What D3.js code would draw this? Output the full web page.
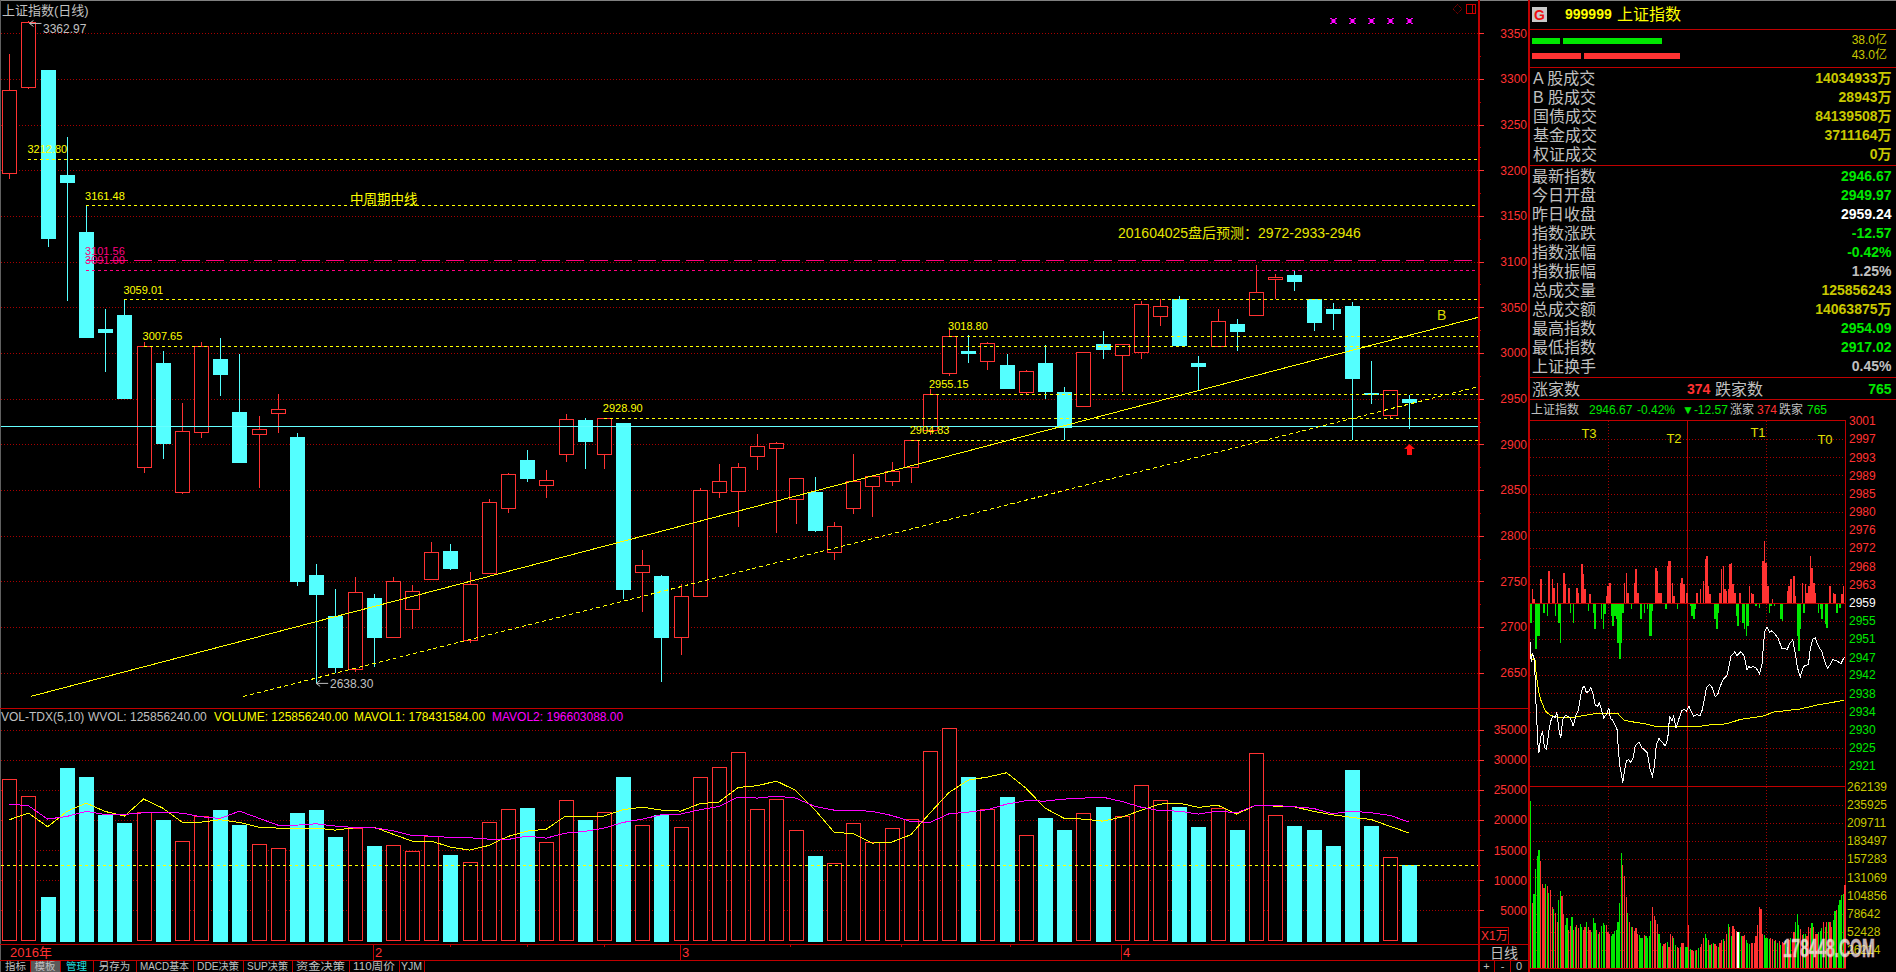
<!DOCTYPE html>
<html><head><meta charset="utf-8">
<script src="https://cdn.jsdelivr.net/npm/d3@7/dist/d3.min.js"></script>
<style>
html,body{margin:0;padding:0;background:#000;overflow:hidden}
svg{display:block}
text{font-family:"Liberation Sans","Noto Sans CJK SC",sans-serif}
</style></head><body>
<script>
const opens=[3196.7,3290.5,3309.8,3194.9,3132.5,3026.2,3041.6,2874.8,2989,2847,2914.2,2993.4,2935.4,2910.5,2933.9,2908,2756.9,2712,2653.2,2731.7,2688.6,2719.3,2752.1,2783.2,2685,2758.3,2829.5,2882.8,2854.7,2888.6,2926.6,2889.7,2923.3,2759.5,2755.8,2688.3,2733.1,2847,2848.1,2886.5,2895.2,2839.7,2847.5,2781.7,2829.9,2853.6,2859.1,2875.5,2915.3,2978.5,3002.2,2990.5,2986.8,2956.5,2989,2957.3,2941.2,3009.8,2997,3000.3,3039.7,3058.7,2989,3006.9,3031.7,3040.8,3080.3,3085.4,3058.7,3048.1,3051.5,2955.8,2932.4,2949.97];
const highs=[3327.4,3362.97,3309.8,3236.5,3161.48,3048.1,3059.01,3012.4,3002.2,2945.2,3012.4,3016.5,2998.9,2931,2955.1,2912.4,2768.9,2741.5,2754.7,2736.1,2754.7,2745.9,2793,2790.8,2760.2,2840.1,2868.2,2893.7,2871.8,2933.2,2928.4,2928.9,2923.3,2784.2,2756.9,2747,2851.8,2878.5,2879.5,2911.3,2902.5,2862.7,2863.8,2814.5,2889,2864.9,2880.6,2904.83,2961,3025.9,3019.3,3011.6,2998.9,2981.4,3008.7,2962.7,3001,3024.1,3009.6,3056.5,3058.7,3062.4,2996.7,3048.1,3037.2,3096.3,3086.5,3091.2,3058.7,3054.7,3055.8,2991.2,2959.24,2954.09];
const lows=[3190.5,3289,3116.4,3057.3,3017.8,2979.5,2949.6,2868.9,2884.3,2845.9,2907.2,2953.2,2881,2852.5,2912.7,2745.2,2638.3,2649.2,2650.3,2656.5,2688.6,2698.1,2752.1,2762.3,2682.8,2758.3,2825.1,2858.7,2841.5,2881,2873.3,2873.3,2730.6,2716.7,2640.1,2669.6,2733.1,2841.5,2809.8,2871.8,2803.2,2813.1,2804.4,2773.7,2824,2820.7,2854.7,2857.6,2909.8,2975.1,2989,2981.5,2961.6,2954,2949.6,2904.8,2941,2993.4,2957.3,2993.4,3029.5,3008.4,2959.5,3006.5,3002.2,3040.8,3058.7,3067.9,3024.1,3025.1,2905,2944.1,2928.4,2917.02];
const closes=[3287.6,3362,3126.3,3187.6,3017.8,3023,2951.1,3007.65,2901.8,2914.2,3008,2977.3,2881,2916.4,2938.3,2750.7,2736.4,2656.5,2737.9,2689.3,2749.9,2739,2781.7,2764.5,2746.7,2836.4,2867.1,2863.1,2860.5,2927.3,2904,2928.9,2741.5,2767.5,2689.3,2733.5,2849.6,2859.5,2874.8,2897.8,2901,2862.7,2805.5,2810.2,2859.5,2864.9,2870.5,2904.83,2955.15,3018.8,3000,3010.5,2961.6,2979.9,2958.4,2919.3,3000.7,3004.3,3009.4,3053.3,3051.1,3008.4,2985.7,3034.6,3024.1,3066.4,3082.8,3078.8,3033.9,3043.8,2972.6,2954.3,2959.24,2946.67];
const volumes=[26814,23988,7257,28697,27201,20886,19556,21329,20055,16509,20664,21717,19224,16011,15346,21218,21717,17229,18670,15734,15844,14847,17340,14238,13019,19667,21828,22049,16343,23323,20055,21329,27201,19168,20886,18836,27146,28808,31301,21828,23490,18337,14072,12853,19501,16343,18670,20166,31467,35290,27201,21828,23877,17506,20387,18393,21163,22215,20664,25816,23323,22215,18891,21994,18393,31135,20830,19058,18393,15734,28365,19058,13850,12586];
const mavol1=[20055,21163,18891,21440,22825,21440,20664,23490,21994,19667,19667,20055,19612,18836,18670,18670,18670,18337,18725,18836,17673,16509,16509,15512,15013,15789,17285,18171,18504,20664,20664,20664,21717,22160,21661,21495,22714,22991,25429,25706,26481,24930,21717,18005,17728,16177,16343,17562,21163,24598,26647,27146,27866,25318,21994,20276,20166,19833,20498,21606,22659,22825,22105,22492,20997,22492,22326,22215,21440,20886,20443,20110,18947,17843];
const mavol2=[22659,22382,20166,20609,21440,20941,20941,21218,21274,21163,20553,20276,21495,20332,19168,19168,19390,19002,18781,18725,18227,17451,17340,17119,17063,16842,16786,17340,17008,17839,18116,18670,19612,20166,20886,20997,21717,22271,23822,23656,23988,23656,22271,21661,21661,21440,20775,19778,19612,21052,21329,21717,22659,23213,23157,23490,23656,23822,23102,22160,21551,21495,20997,21495,21218,22492,22437,22215,21938,21052,21495,21218,20775,19660];
const priceTicks=[3350,3300,3250,3200,3150,3100,3050,3000,2950,2900,2850,2800,2750,2700,2650];
const priceMinorTicks=[3325,3275,3225,3175,3125,3075,3025,2975,2925,2875,2825,2775,2725,2675];
const volTicks=[35000,30000,25000,20000,15000,10000,5000];
const volMinorTicks=[32500,27500,22500,17500,12500,7500];
const yellowLevels=[3212.80,3161.48,3059.01,3007.65,3018.80,2955.15,2928.90,2904.83];
const yellowLevelStart=[1,4,6,7,49,48,31,47];
const pinkLevels=[3101.56,3091.00];
const pinkLevelStart=[4,4];
const baseLevel=2919.7;
const trendIdx=[1.13,76.57];
const trendPrice=[2624.1,3039];
const supportIdx=[12.2,76.47];
const supportPrice=[2624.1,2962.4];
const watchIdx=[69,70,71,72,73];
const monthLabels=["2016年","2","3","4"];
const monthIdx=[0,19,35,58];
const weekIdx=[23,27,31,40.7,46.5,52.2];
const tabs=["指标","模板","管理","另存为","MACD基本","DDE决策","SUP决策","资金决策","110周价","YJM"];
const tabEdges=[1,30,60,93,136,193,243,292,349,399,424];
const infoLabelsA=["A 股成交","B 股成交","国债成交","基金成交","权证成交"];
const infoValuesA=["14034933万","28943万","84139508万","3711164万","0万"];
const infoLabelsB=["最新指数","今日开盘","昨日收盘","指数涨跌","指数涨幅","指数振幅","总成交量","总成交额","最高指数","最低指数","上证换手"];
const infoValuesB=["2946.67","2949.97","2959.24","-12.57","-0.42%","1.25%","125856243","14063875万","2954.09","2917.02","0.45%"];
const infoColorsB=["#00e800","#00e800","#ffffff","#00e800","#00e800","#c0c0c0","#c8c800","#c8c800","#00e800","#00e800","#c0c0c0"];
const intraTickValues=[3001,2996.8,2992.6,2988.5,2984.3,2980.1,2975.9,2971.8,2967.6,2963.4,2959.24,2955.1,2950.9,2946.7,2942.6,2938.4,2934.2,2930,2925.9,2921.7];
const intraTickLabels=["3001","2997","2993","2989","2985","2980","2976","2972","2968","2963","2959","2955","2951","2947","2942","2938","2934","2930","2925","2921"];
const intraVolTicks=[262139,235925,209711,183497,157283,131069,104856,78642,52428,26214];
const intraIdx=[0,0.6,1.4,2.6,3.6,4.7,5.3,6.3,7.5,8.7,9.9,11.5,12.8,14,15.2,16.2,17.4,18.6,19.8,21.1,22.5,24.1,25.5,26.1,27.7,29.4,30.6,31.8,33,34.2,35.6,36.8,38.3,39.5,40.9,42.1,43.3,44.7,46.4,47.8,48.8,50,51.4,52.8,53.6,54.5,55.3,56.3,57.3,58.5,59.9,61.1,62.6,63.8,66,68,71.1,73.1,74.3,75.5,76.7,78.3,80.2,82,83.6,84.8,86.2,87.2,88.7,90.3,92.3,93.7,94.9,96.6,97.8,99.4,101.4,103.4,104.7,105.9,107.1,109.1,110.7,112.6,114,115.6,117.2,119.6,120.9,122.1,124.3,125.7,128.1,130.2,131.8,133,134.2,135.4,137.4,139.5,141.1,141.9,142.9,144.1,145.5,147,149,150.6,153,154.5,156.1,158.1,159.7,161.1,162.6,164.2,166.2,169.2,170.2,171.9,173.3,175.3,177.3,179.4,180.8,182.4,184,186.4,188.9,191];
const intraPrice=[2950.3,2945.5,2947.7,2946.1,2935.4,2926.7,2924.8,2928.2,2929.7,2925.9,2925.5,2930.1,2932.4,2933.2,2932.8,2934.1,2930.1,2928.2,2932.4,2933.2,2933.2,2932.8,2931.8,2930.9,2933.2,2934.7,2937.7,2939.7,2940,2938.5,2938.9,2939.7,2938.1,2935.8,2935.4,2936.2,2934.7,2932.8,2933.5,2935.1,2932.6,2932.4,2931.3,2930.1,2925.5,2921.7,2920.2,2917.8,2920.6,2922.9,2923.2,2922.5,2923.6,2926.3,2927.2,2925.9,2924.8,2920.6,2919.4,2921.7,2926.7,2928,2927.2,2926.3,2927.8,2933.2,2932,2933.2,2930.5,2932.4,2934.5,2934.7,2934.3,2935.4,2934.3,2933.2,2933.5,2933.3,2934.7,2937,2939.7,2940.4,2939.7,2937.6,2938.1,2940,2941.5,2942.5,2944.6,2946.9,2947.9,2947.1,2948,2946.9,2943.8,2944.6,2944.2,2944.6,2944.2,2942.9,2945.4,2950,2953,2953.6,2952.4,2952.8,2951.9,2951.1,2948.8,2948.8,2948.4,2950,2950.7,2947.7,2944.2,2942.2,2944.6,2945,2948.4,2950.9,2951.1,2949.2,2948,2945.4,2944.2,2945,2946.1,2945.9,2945.2,2946.7];
const avgIdx=[0,1.2,2.8,3.8,5.3,6.7,9.3,12.4,18.4,25.5,32.6,40.7,53.2,57.3,63,71.1,77.1,87.3,101.4,107.5,119.6,127.7,141.9,148,164.2,174.3,191];
const avgPrice=[2948.4,2946.1,2946.5,2942.3,2938.5,2936.6,2934.3,2933.3,2932.8,2932.8,2933.3,2933.8,2933.8,2932.2,2931.8,2931.3,2930.7,2930.7,2930.7,2931.1,2931.4,2932.4,2933.2,2934.1,2934.8,2935.7,2936.8];
const riseIdx=[1,2,6,11,13,14,16,20,21,23,28,29,31,32,33,36,46,47,48,57,58,59,63,64,65,76,77,78,79,83,84,85,86,87,91,92,93,95,101,103,105,106,107,108,109,115,116,117,118,119,120,121,122,123,124,127,133,134,135,141,142,143,144,147,156,157,158,160,161,165,167,168,169,170,171,172,173,182,184,185,189,190];
const riseVal=[40,10,70,95,70,45,60,90,55,45,45,30,115,85,40,25,20,50,60,60,90,30,60,100,30,105,95,30,30,110,125,125,60,20,60,75,55,30,30,40,65,130,140,50,25,30,100,110,40,35,40,115,120,55,30,30,50,30,25,125,185,120,50,10,35,50,70,80,20,60,55,30,50,140,105,60,30,50,30,25,25,50];
const fallIdx=[0,3,4,5,8,10,15,17,18,24,26,35,38,39,43,44,45,49,50,51,52,53,54,55,56,61,67,69,71,72,73,74,80,82,89,97,98,99,100,112,113,114,125,126,129,130,131,132,137,139,145,146,148,152,153,162,163,164,166,175,176,177,179,180,186,188];
const fallVal=[60,140,100,100,30,40,40,60,120,30,60,25,30,80,50,80,35,40,70,40,50,120,170,120,30,20,50,30,20,100,100,25,5,20,20,10,40,50,20,50,80,30,40,70,60,80,100,70,10,15,30,10,10,50,55,100,145,80,30,30,20,50,65,75,30,15];
const intraVol=[241000,94000,107000,143000,162000,171000,155000,122000,115000,122000,118000,109000,113000,88000,85000,79000,67000,99000,111000,104000,78000,62000,72000,55000,61000,74000,55000,60000,62000,58000,64000,59000,55000,60000,66000,60000,55000,53000,72000,65000,55000,50000,53000,61000,65000,62000,62000,53000,50000,47000,50000,54000,55000,67000,94000,166000,149000,133000,103000,79000,67000,59000,60000,54000,58000,50000,48000,44000,43000,48000,46000,43000,46000,68000,89000,75000,70000,64000,50000,36000,32000,35000,36000,38000,31000,49000,47000,43000,34000,31000,29000,31000,37000,36000,31000,31000,62000,28000,27000,25000,25000,26000,29000,31000,35000,43000,50000,43000,41000,34000,35000,36000,35000,32000,31000,36000,41000,42000,39000,50000,64000,60000,46000,61000,56000,54000,53000,53000,47000,47000,48000,41000,36000,35000,36000,36000,37000,46000,62000,88000,85000,50000,48000,44000,44000,42000,43000,42000,40000,41000,37000,40000,34000,38000,36000,41000,31000,41000,43000,41000,53000,66000,78000,62000,56000,48000,49000,49000,47000,59000,58000,65000,60000,50000,49000,53000,54000,58000,66000,60000,67000,67000,67000,60000,70000,82000,84000,91000,98000,106000,107000,120000];
const intraVolColor="grggggrrrgrgrrgrrggrrggrrgrgrrggrrgrrgggrgrgggrr"+"rgggggggrrrgrgrrrrgggrggggrrrrgggrrgrrrggrrgrrg"+"grgrrgrgrrrggrgrgrrgrrgrrgrgrrrwggrrgggrrrrrrrrg"+"gggrrgrgrgrrggrgrrgggrrggrrrgrrrgggrgrgrrggrgggg";

const W=1896,H=972;
const RED="#ff3232",CYAN="#54ffff",YEL="#ffff00",PINK="#ff0080",AX="#c00000",GRID="#a80000",GREY="#c0c0c0",DY="#c8c800",GRN="#00e800";
const svg=d3.select("body").append("svg").attr("width",W).attr("height",H);
svg.append("rect").attr("width",W).attr("height",H).attr("fill","#000");

const x=d3.scaleLinear().domain([0,73]).range([9.3,1409.4]);
const y=d3.scaleLinear().domain([2650,3350]).range([672.7,33.3]);
const yV=d3.scaleLinear().domain([0,35000]).range([940.5,729.8]);
const PL=1,PR=1478;
const px=v=>Math.round(v)+.5;

function hline(g,yy,x1,x2,col,dash,w){g.append("line").attr("x1",x1).attr("x2",x2).attr("y1",yy).attr("y2",yy)
  .attr("stroke",col).attr("stroke-width",w||1).attr("stroke-dasharray",dash||null).attr("shape-rendering","crispEdges");}
function vline(g,xx,y1,y2,col,dash,w){g.append("line").attr("x1",xx).attr("x2",xx).attr("y1",y1).attr("y2",y2)
  .attr("stroke",col).attr("stroke-width",w||1).attr("stroke-dasharray",dash||null).attr("shape-rendering","crispEdges");}
function txt(g,s,xx,yy,col,size,anchor,weight){return g.append("text").attr("x",xx).attr("y",yy).attr("dy",".36em").attr("fill",col)
  .attr("font-size",size).attr("text-anchor",anchor||"start").attr("font-weight",weight||null).text(s);}

const frame=svg.append("g");
hline(frame,0.5,0,W,"#808080");
vline(frame,0.5,0,H,"#606060");

const gridG=svg.append("g");
priceTicks.forEach(t=>hline(gridG,px(y(t)),PL,PR,GRID,"1 2"));
volTicks.forEach(t=>hline(gridG,px(yV(t)),PL,PR,GRID,"1 2"));

const marks=svg.append("g");
const idx=d3.range(opens.length);
const up=i=>closes[i]>=opens[i];
marks.selectAll("line.w").data(idx).join("line").attr("class","w")
 .attr("x1",i=>px(x(i))).attr("x2",i=>px(x(i))).attr("y1",i=>y(highs[i])).attr("y2",i=>y(lows[i]))
 .attr("stroke",i=>up(i)?RED:CYAN).attr("shape-rendering","crispEdges");
marks.selectAll("rect.c").data(idx).join("rect").attr("class","c")
 .attr("x",i=>px(x(i))-7).attr("width",14)
 .attr("y",i=>px(y(Math.max(opens[i],closes[i]))))
 .attr("height",i=>Math.max(1,Math.abs(y(opens[i])-y(closes[i]))))
 .attr("fill",i=>up(i)?"#000":CYAN).attr("stroke",i=>up(i)?RED:CYAN).attr("shape-rendering","crispEdges");

const lev=svg.append("g");
hline(lev,px(y(baseLevel)),1,PR,"#66ffff");
yellowLevels.forEach((l,i)=>{
  hline(lev,px(y(l)),x(yellowLevelStart[i]),PR,YEL,"3 3");
  txt(lev,l.toFixed(2),x(yellowLevelStart[i])-1,y(l)-9.5,YEL,11);
});
pinkLevels.forEach((l,i)=>{
  hline(lev,px(y(l)),x(pinkLevelStart[i]),PR,PINK,i==0?"18 6":"3 3",i==0?1.5:1);
  txt(lev,l.toFixed(2),x(pinkLevelStart[i])-1,y(l)-9.5,PINK,11);
});
const tl=d3.line().x(d=>x(d[0])).y(d=>y(d[1]));
lev.append("path").attr("d",tl(d3.zip(trendIdx,trendPrice))).attr("fill","none").attr("stroke",YEL).attr("shape-rendering","crispEdges");
lev.append("path").attr("d",tl(d3.zip(supportIdx,supportPrice))).attr("fill","none").attr("stroke",YEL).attr("stroke-dasharray","4 3").attr("shape-rendering","crispEdges");

const an=svg.append("g");
txt(an,"上证指数(日线)",2,10,GREY,13);
txt(an,"中周期中线",350,199,YEL,13.5);
txt(an,"201604025盘后预测：2972-2933-2946",1118,233,"#e6e600",14);
txt(an,"B",1437,315,"#d8d800",14);
txt(an,"3362.97",43,29,GREY,12);
txt(an,"2638.30",330,684,GREY,12);
function hiloArrow(xx,yy){an.append("path").attr("d",`M${xx+12},${yy}H${xx}M${xx+4},${yy-3}L${xx},${yy}L${xx+4},${yy+3}`).attr("fill","none").attr("stroke",GREY);}
hiloArrow(x(1)+1,y(highs[1])+2);
hiloArrow(x(16),y(lows[16]));
const ax0=px(x(73)), ay0=444;
an.append("path").attr("d",`M${ax0},${ay0}l5.5,5h-3v6h-5v-6h-3z`).attr("fill","#ff1010");
watchIdx.forEach(i=>{an.append("rect").attr("x",px(x(i))-2).attr("y",19).attr("width",4).attr("height",4).attr("fill","#ff00ff");
 const c=px(x(i));an.append("path").attr("d",`M${c-3},18l1,1M${c+3},18l-1,1M${c-3},24l1,-1M${c+3},24l-1,-1`).attr("stroke","#ff00ff").attr("fill","none").attr("shape-rendering","crispEdges");});
an.append("path").attr("d","M1457.5,4.5l4.5,4.5l-4.5,4.5l-4.5,-4.5z").attr("fill","none").attr("stroke","#c00000").attr("stroke-dasharray","1 1");
an.append("rect").attr("x",1466.5).attr("y",4.5).attr("width",9).attr("height",9).attr("fill","none").attr("stroke","#d00000");
vline(an,1472.5,4,14,"#d00000");

const vp=svg.append("g");
vp.selectAll("rect.v").data(idx).join("rect").attr("class","v")
 .attr("x",i=>px(x(i))-7).attr("width",14)
 .attr("y",i=>px(yV(volumes[i]))).attr("height",i=>yV(0)-yV(volumes[i]))
 .attr("fill",i=>up(i)?"#000":CYAN).attr("stroke",i=>up(i)?RED:CYAN).attr("shape-rendering","crispEdges");
hline(vp,px(yV(volumes[73])),1,PR,YEL,"3 3");
const ml=s=>d3.line().x((d,i)=>x(i)).y(d=>yV(d))(s);
vp.append("path").attr("d",ml(mavol1)).attr("fill","none").attr("stroke",YEL).attr("shape-rendering","crispEdges");
vp.append("path").attr("d",ml(mavol2)).attr("fill","none").attr("stroke","#ff00ff").attr("shape-rendering","crispEdges");
txt(vp,"VOL-TDX(5,10)",1,717,GREY,12);
txt(vp,"WVOL: 125856240.00",88,717,GREY,12);
txt(vp,"VOLUME: 125856240.00",214,717,YEL,12);
txt(vp,"MAVOL1: 178431584.00",354,717,YEL,12);
txt(vp,"MAVOL2: 196603088.00",492,717,"#ff00ff",12);

const sep=svg.append("g");
hline(sep,708.5,0,1529,AX);
hline(sep,944.5,0,1529,AX);
hline(sep,960.5,0,1529,AX);
vline(sep,1478.5,0,972,AX,null,2);
vline(sep,1529,0,972,AX,null,2);
function styleAxis(g,col,tx){g.select(".domain").remove();g.selectAll("line").attr("stroke",col).attr("shape-rendering","crispEdges");
 g.selectAll("text").attr("fill",col).attr("x",tx).attr("text-anchor","end").attr("font-size",12).attr("font-family",null);}
svg.append("g").attr("transform","translate(1479,0)").call(d3.axisRight(y).tickValues(priceTicks).tickSize(5).tickFormat(d3.format("d"))).call(styleAxis,RED,48);
svg.append("g").attr("transform","translate(1479,0)").call(d3.axisRight(y).tickValues(priceMinorTicks).tickSize(2).tickFormat("")).call(styleAxis,AX,0);
svg.append("g").attr("transform","translate(1479,0)").call(d3.axisRight(yV).tickValues(volTicks).tickSize(5).tickFormat(d3.format("d"))).call(styleAxis,RED,48);
svg.append("g").attr("transform","translate(1479,0)").call(d3.axisRight(yV).tickValues(volMinorTicks).tickSize(2).tickFormat("")).call(styleAxis,AX,0);
const unit=svg.append("g");
unit.append("rect").attr("x",1479.5).attr("y",927.5).attr("width",29).attr("height",17).attr("fill","#000").attr("stroke",AX);
txt(unit,"X1万",1481,936,RED,12);
txt(unit,"日线",1504,952.5,GREY,14,"middle");
vline(unit,1494.5,960,972,AX);vline(unit,1510.5,960,972,AX);
txt(unit,"+",1486.5,966,GREY,11,"middle");
txt(unit,"-",1502.5,966,GREY,11,"middle");
txt(unit,"0",1519,966,GREY,11,"middle");

const ta=svg.append("g");
monthIdx.forEach((m,i)=>{
  const xx=i==0?10:px(x(m)-1);
  if(i>0)vline(ta,xx,944,960,AX);
  txt(ta,monthLabels[i],xx+(i==0?0:1.5),952.5,RED,13,"start");
});
weekIdx.forEach(m=>vline(ta,px(x(m)),944,947,AX));
const tb=svg.append("g");
tb.append("rect").attr("x",tabEdges[1]).attr("y",961).attr("width",tabEdges[2]-tabEdges[1]).attr("height",11).attr("fill","#5a5a5a");
tabs.forEach((t,i)=>{
  const wd=tabEdges[i+1]-tabEdges[i];
  const tt=txt(tb,t,(tabEdges[i]+tabEdges[i+1])/2,966,i==2?"#20e0e0":GREY,10.5,"middle");
  if(t.length>3) tt.attr("textLength",wd-8).attr("lengthAdjust","spacingAndGlyphs");
  vline(tb,tabEdges[i+1]+.5,960,972,AX);
});

const rp=svg.append("g");
rp.append("rect").attr("x",1532).attr("y",7).attr("width",15).attr("height",15).attr("fill","#c8c8c8");
txt(rp,"G",1539.5,14.5,"#f01010",14,"middle","bold");
txt(rp,"999999",1565,14,YEL,14,"start","bold");
txt(rp,"上证指数",1617,14,YEL,16);
[29.5,67.5,165.5,377.5,399.5].forEach(v=>hline(rp,v,1529,W,AX));
[[1532,1560,38],[1563,1662,38]].forEach(b=>rp.append("rect").attr("x",b[0]).attr("y",b[2]).attr("width",b[1]-b[0]).attr("height",6).attr("fill","#00e800"));
[[1532,1581,53],[1584,1680,53]].forEach(b=>rp.append("rect").attr("x",b[0]).attr("y",b[2]).attr("width",b[1]-b[0]).attr("height",6).attr("fill",RED));
txt(rp,"38.0亿",1887,40,DY,12,"end");
txt(rp,"43.0亿",1887,54.5,DY,12,"end");
const VX=1891.5;
infoLabelsA.forEach((s,i)=>{const yy=78+19*i;txt(rp,s,1533,yy,GREY,16);txt(rp,infoValuesA[i],VX,yy,DY,14,"end","bold");});
infoLabelsB.forEach((s,i)=>{const yy=176+19*i;txt(rp,s,1532,yy,GREY,16);txt(rp,infoValuesB[i],VX,yy,infoColorsB[i],14,"end","bold");});
txt(rp,"涨家数",1532,389,GREY,16);
txt(rp,"374",1687,389,RED,14,"start","bold");
txt(rp,"跌家数",1715,389,GREY,16);
txt(rp,"765",VX,389,GRN,14,"end","bold");
txt(rp,"上证指数",1531,410,GREY,12);
txt(rp,"2946.67",1589,410,GRN,12);
txt(rp,"-0.42%",1637,410,GRN,12);
txt(rp,"▼-12.57",1682,410,GRN,12);
txt(rp,"涨家",1730,410,GREY,12);
txt(rp,"374",1757,410,RED,12);
txt(rp,"跌家",1779,410,GREY,12);
txt(rp,"765",1807,410,GRN,12);

const ip=svg.append("g");
const ix=d3.scaleLinear().domain([0,191]).range([1530.2,1844.3]);
const iy=d3.scaleLinear().domain([2917,3001]).range([786.5,420.8]);
const iv=d3.scaleLinear().domain([0,262139]).range([968.3,786.3]);
const ib=d3.scaleLinear().domain([0,185]).range([0,61.7]);
const IL=1530,IR=1846;
intraTickValues.slice(1).forEach(t=>{ if(t!==2959.24) hline(ip,px(iy(t)),IL,IR,GRID,"1 2");});
intraVolTicks.slice(1).forEach(t=>hline(ip,px(iv(t)),IL,IR,GRID,"1 2"));
vline(ip,1608.5,421,968,GRID,"1 2");
vline(ip,1766.5,421,968,GRID,"1 2");
vline(ip,1687.5,421,968,AX);
hline(ip,420.5,1529,1846,AX);
hline(ip,786.5,1529,1846,AX);
hline(ip,968.5,1529,1846,AX);
vline(ip,1845.5,421,968,AX);
const zero=iy(2959.24);
ip.selectAll("rect.r").data(riseIdx).join("rect").attr("class","r").attr("x",d=>ix(d)).attr("width",1.5)
 .attr("y",(d,i)=>zero-ib(riseVal[i])).attr("height",(d,i)=>ib(riseVal[i])).attr("fill",RED).attr("shape-rendering","crispEdges");
ip.selectAll("rect.f").data(fallIdx).join("rect").attr("class","f").attr("x",d=>ix(d)).attr("width",1.5)
 .attr("y",zero).attr("height",(d,i)=>ib(fallVal[i])).attr("fill",GRN).attr("shape-rendering","crispEdges");
hline(ip,px(zero),1529,1846,AX);
const il=d3.line().x(d=>ix(d[0])).y(d=>iy(d[1]));
ip.append("path").attr("d",il(d3.zip(avgIdx,avgPrice))).attr("fill","none").attr("stroke",YEL).attr("shape-rendering","crispEdges");
ip.append("path").attr("d",il(d3.zip(intraIdx,intraPrice))).attr("fill","none").attr("stroke","#ffffff").attr("shape-rendering","crispEdges");
ip.selectAll("rect.iv").data(intraVol).join("rect").attr("class","iv").attr("x",(d,i)=>ix(i)).attr("width",1.2)
 .attr("y",d=>iv(d)).attr("height",d=>iv(0)-iv(d))
 .attr("fill",(d,i)=>{const c=intraVolColor.charAt(i);return c=="g"?GRN:c=="w"?"#fff":RED;}).attr("shape-rendering","crispEdges");
const ia=svg.append("g").attr("transform","translate(1846,0)")
 .call(d3.axisRight(iy).tickValues(intraTickValues).tickSize(0).tickFormat((d,i)=>intraTickLabels[i]));
ia.select(".domain").remove();
ia.selectAll("text").attr("x",3).attr("text-anchor","start").attr("font-size",12).attr("font-family",null)
 .attr("fill",(d,i)=>i<10?RED:i==10?"#fff":GRN);
const ib2=svg.append("g").attr("transform","translate(1846,0)")
 .call(d3.axisRight(iv).tickValues(intraVolTicks).tickSize(0).tickFormat(d3.format("d")));
ib2.select(".domain").remove();
ib2.selectAll("text").attr("x",1).attr("text-anchor","start").attr("font-size",12).attr("font-family",null).attr("fill",DY);
[["T3",1589,433],["T2",1674,438],["T1",1758,432],["T0",1825,439]].forEach(t=>txt(ip,t[0],t[1],t[2],"#e0e000",13,"middle"));
svg.append("text").attr("x",1783).attr("y",957).attr("fill","#ffffff").attr("fill-opacity",.72).attr("stroke","#ffb0c0").attr("stroke-opacity",.5)
 .attr("font-size",26).attr("font-weight","bold").attr("textLength",92).attr("lengthAdjust","spacingAndGlyphs").text("178448.COM");
</script>
</body></html>
